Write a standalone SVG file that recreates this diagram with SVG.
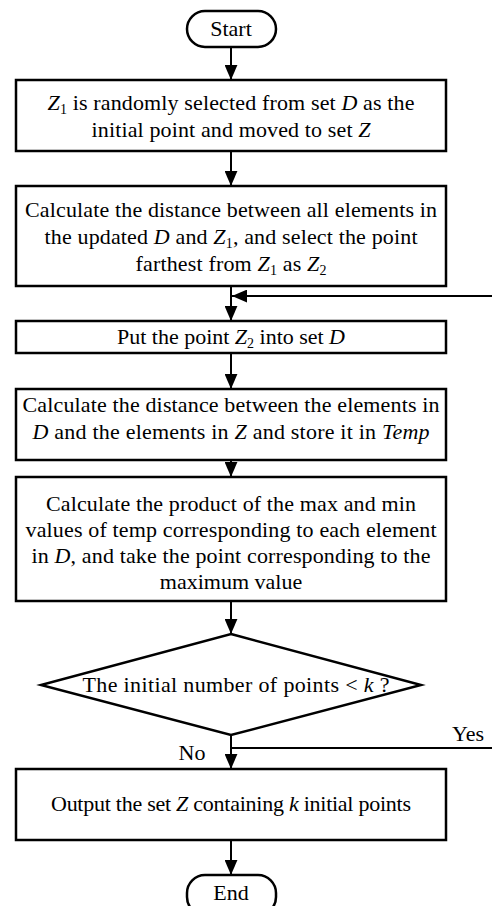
<svg xmlns="http://www.w3.org/2000/svg" width="492" height="906" viewBox="0 0 492 906" font-family="'Liberation Serif', 'Times New Roman', serif" font-size="22">
<defs>
<marker id="ah" viewBox="0 0 14 12" refX="14" refY="6" markerWidth="15" markerHeight="13" markerUnits="userSpaceOnUse" orient="auto">
<path d="M0,0 L14,6 L0,12 Z" fill="#000"/>
</marker>
<style>
.box{fill:#fff;stroke:#000;stroke-width:2.5}
.ln{fill:none;stroke:#000;stroke-width:2}
.t{font-family:'Liberation Serif','Times New Roman',serif;font-size:22px;fill:#000;text-anchor:middle}
.i{font-style:italic}
.s{font-size:14px}
</style>
</defs>
<g id="connectors">
<line class="ln" x1="231" y1="47" x2="231" y2="80" marker-end="url(#ah)"/>
<line class="ln" x1="231" y1="151" x2="231" y2="186" marker-end="url(#ah)"/>
<line class="ln" x1="231" y1="286" x2="231" y2="321" marker-end="url(#ah)"/>
<line class="ln" x1="492" y1="296" x2="232" y2="296" marker-end="url(#ah)"/>
<line class="ln" x1="231" y1="353" x2="231" y2="389" marker-end="url(#ah)"/>
<line class="ln" x1="231" y1="460" x2="231" y2="477" marker-end="url(#ah)"/>
<line class="ln" x1="231" y1="601" x2="231" y2="634" marker-end="url(#ah)"/>
<line class="ln" x1="231" y1="735" x2="231" y2="769" marker-end="url(#ah)"/>
<line class="ln" x1="231" y1="748" x2="492" y2="748"/>
<line class="ln" x1="231" y1="840" x2="231" y2="875" marker-end="url(#ah)"/>
<text class="t" x="468" y="741">Yes</text>
<text class="t" x="192" y="760">No</text>
</g>
<g id="start">
<rect class="box" x="187" y="11" width="89" height="36" rx="18"/>
<text class="t" x="231" y="36">Start</text>
</g>
<g id="step1">
<rect class="box" x="16" y="80" width="430" height="71"/>
<text class="t" x="231" y="110" textLength="367" lengthAdjust="spacing"><tspan class="i">Z</tspan><tspan class="s" dy="4">1</tspan><tspan dy="-4"> is randomly selected from set </tspan><tspan class="i">D</tspan> as the</text>
<text class="t" x="231" y="137" textLength="279" lengthAdjust="spacing">initial point and moved to set <tspan class="i">Z</tspan></text>
</g>
<g id="step2">
<rect class="box" x="16" y="186" width="430" height="100"/>
<text class="t" x="231" y="217" textLength="412" lengthAdjust="spacing">Calculate the distance between all elements in</text>
<text class="t" x="231" y="244" textLength="373" lengthAdjust="spacing">the updated <tspan class="i">D</tspan> and <tspan class="i">Z</tspan><tspan class="s" dy="4">1</tspan><tspan dy="-4">, and select the point</tspan></text>
<text class="t" x="231" y="271" textLength="191" lengthAdjust="spacing">farthest from <tspan class="i">Z</tspan><tspan class="s" dy="4">1</tspan><tspan dy="-4"> as </tspan><tspan class="i">Z</tspan><tspan class="s" dy="4">2</tspan></text>
</g>
<g id="step3">
<rect class="box" x="16" y="321" width="430" height="32"/>
<text class="t" x="231" y="344" textLength="228" lengthAdjust="spacing">Put the point <tspan class="i">Z</tspan><tspan class="s" dy="4">2</tspan><tspan dy="-4"> into set </tspan><tspan class="i">D</tspan></text>
</g>
<g id="step4">
<rect class="box" x="16" y="389" width="430" height="71"/>
<text class="t" x="231" y="412" textLength="417" lengthAdjust="spacing">Calculate the distance between the elements in</text>
<text class="t" x="231" y="439" textLength="397" lengthAdjust="spacing"><tspan class="i">D</tspan> and the elements in <tspan class="i">Z</tspan> and store it in <tspan class="i">Temp</tspan></text>
</g>
<g id="step5">
<rect class="box" x="16" y="477" width="430" height="124"/>
<text class="t" x="231" y="511" textLength="370" lengthAdjust="spacing">Calculate the product of the max and min</text>
<text class="t" x="231" y="537" textLength="411" lengthAdjust="spacing">values of temp corresponding to each element</text>
<text class="t" x="231" y="563" textLength="399" lengthAdjust="spacing">in <tspan class="i">D</tspan>, and take the point corresponding to the</text>
<text class="t" x="231" y="589">maximum value</text>
</g>
<g id="decision">
<polygon class="box" points="231,634 421,685 231,735 41,685"/>
<text class="t" x="236" y="692" textLength="307" lengthAdjust="spacing">The initial number of points &lt; <tspan class="i">k</tspan> ?</text>
</g>
<g id="output">
<rect class="box" x="16" y="769" width="430" height="71"/>
<text class="t" x="231" y="811" textLength="360" lengthAdjust="spacing">Output the set <tspan class="i">Z</tspan> containing <tspan class="i">k</tspan> initial points</text>
</g>
<g id="end">
<rect class="box" x="187" y="875" width="89" height="40" rx="18"/>
<text class="t" x="231" y="900">End</text>
</g>
</svg>
